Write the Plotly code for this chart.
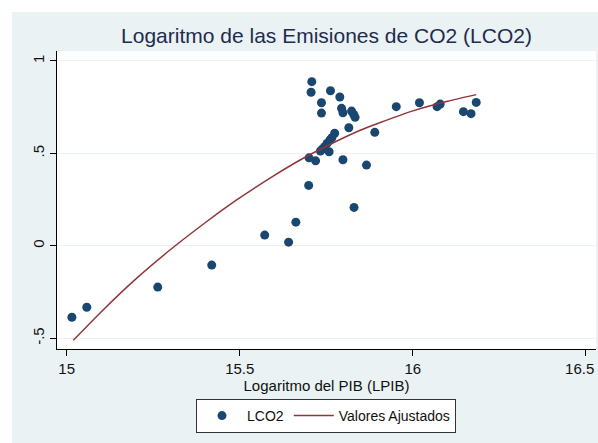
import plotly.graph_objects as go

# Data
lpib = [15.015, 15.058, 15.263, 15.419, 15.572, 15.641, 15.662, 15.699, 15.700, 15.719,
        15.706, 15.708, 15.736, 15.736, 15.762, 15.789, 15.794, 15.798, 15.823, 15.829,
        15.833, 15.815, 15.774, 15.766, 15.760, 15.752, 15.745, 15.739, 15.733, 15.758,
        15.798, 15.866, 15.830, 15.890, 15.952, 16.019, 16.079, 16.070, 16.183, 16.146,
        16.168]
lco2 = [-0.386, -0.332, -0.223, -0.104, 0.058, 0.020, 0.128, 0.327, 0.476, 0.460,
        0.831, 0.888, 0.774, 0.718, 0.839, 0.805, 0.744, 0.720, 0.729, 0.711,
        0.695, 0.639, 0.609, 0.585, 0.572, 0.554, 0.536, 0.524, 0.513, 0.509,
        0.466, 0.437, 0.208, 0.614, 0.753, 0.774, 0.767, 0.753, 0.776, 0.726,
        0.715]

fit_x = [15.019, 15.100, 15.192, 15.300, 15.400, 15.490, 15.600, 15.673, 15.760, 15.846,
         15.904, 16.000, 16.100, 16.183]
fit_y = [-0.511, -0.356, -0.192, -0.020, 0.125, 0.247, 0.381, 0.463, 0.548, 0.624,
         0.666, 0.730, 0.782, 0.818]

x_ticks = [15, 15.5, 16, 16.5]
# trailing no-break spaces nudge the last label left so it stays inside the page
x_tick_text = ["15", "15.5", "16", "16.5\u00a0\u00a0\u00a0"]
y_ticks = [-0.5, 0, 0.5, 1]
y_tick_text = ["-.5", "0", ".5", "1"]

FONT = "Liberation Sans, Arial, sans-serif"
BG = "#eaf2f3"

fig = go.Figure()
fig.add_trace(go.Scatter(
    x=lpib, y=lco2, mode="markers", name="LCO2",
    marker=dict(color="#1a476f", size=9, line=dict(width=0)),
))
fig.add_trace(go.Scatter(
    x=fit_x, y=fit_y, mode="lines", name="Valores Ajustados",
    line=dict(color="#90353b", width=1.5, shape="spline", smoothing=0.6),
))

W, H = 598, 443
L, R, T, B = 57, 2, 51, 94
pw, ph = W - L - R, H - T - B

def fx(px):
    return (px - L) / pw

def fy(py):
    return (H - B - py) / ph

fig.update_layout(
    width=W, height=H,
    margin=dict(l=L, r=R, t=T, b=B, pad=0, autoexpand=False),
    paper_bgcolor=BG,
    plot_bgcolor="white",
    font=dict(family=FONT, size=15, color="#111111"),
    title=dict(text="Logaritmo de las Emisiones de CO2 (LCO2)",
               font=dict(size=21, color="#1e2c4e", family=FONT),
               x=0.5, xref="paper", xanchor="center",
               y=1 - 36 / H, yanchor="middle"),
    showlegend=True,
    legend=dict(orientation="h", x=fx(326), xanchor="center", y=fy(399), yanchor="top",
                bgcolor="white", bordercolor="#333333", borderwidth=1,
                font=dict(size=14, family=FONT, color="#111111"),
                itemsizing="trace", itemwidth=40),
    shapes=[
        dict(type="rect", xref="paper", yref="paper", layer="above",
             x0=fx(-5), x1=fx(12), y0=fy(H + 5), y1=fy(-5),
             fillcolor="white", line=dict(width=0)),
        dict(type="rect", xref="paper", yref="paper", layer="above",
             x0=fx(-5), x1=fx(W + 5), y0=fy(12), y1=fy(-5),
             fillcolor="white", line=dict(width=0)),
    ],
)

fig.update_xaxes(
    range=[14.972, 16.529], tickvals=x_ticks, ticktext=x_tick_text,
    automargin=False, ticklabeloverflow="allow",
    showgrid=False, zeroline=False,
    showline=True, linecolor="#000000", linewidth=1,
    ticks="outside", ticklen=6, tickcolor="#000000", tickwidth=1,
    tickfont=dict(size=15, family=FONT, color="#111111"),
    title=dict(text="Logaritmo del PIB (LPIB)", standoff=0,
               font=dict(size=15, family=FONT, color="#111111")),
)
fig.update_yaxes(
    range=[-0.558, 1.054], tickvals=y_ticks, ticktext=y_tick_text,
    automargin=False,
    showgrid=True, gridcolor=BG, gridwidth=1, zeroline=False,
    showline=True, linecolor="#000000", linewidth=1,
    ticks="outside", ticklen=6, tickcolor="#000000", tickwidth=1,
    tickangle=-90,
    tickfont=dict(size=15, family=FONT, color="#111111"),
)

fig.write_html(
    "out.html",
    config={"displayModeBar": False},
    post_script="document.body.style.margin='0';document.body.style.overflow='hidden';",
)
